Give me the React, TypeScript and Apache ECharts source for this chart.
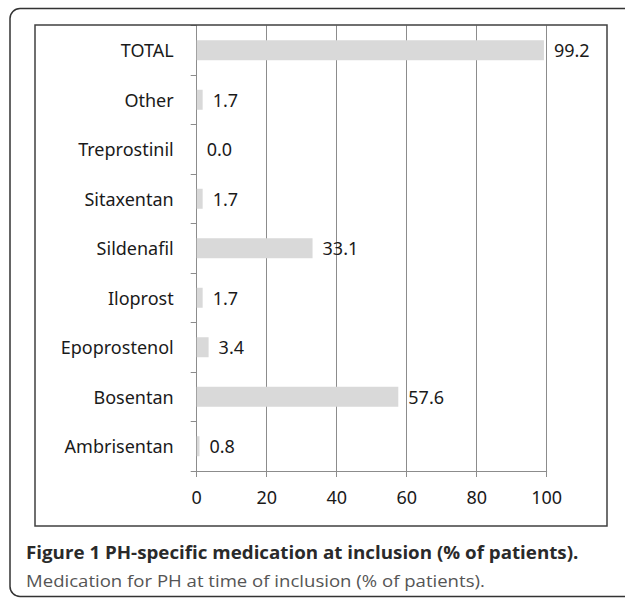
import React, { useEffect, useRef } from "react";
import * as echarts from "echarts";

const categories = ["TOTAL", "Other", "Treprostinil", "Sitaxentan", "Sildenafil", "Iloprost", "Epoprostenol", "Bosentan", "Ambrisentan"];
const values = [99.2, 1.7, 0.0, 1.7, 33.1, 1.7, 3.4, 57.6, 0.8];
const xTicks = [0, 20, 40, 60, 80, 100];
const captionBold = "Figure 1 PH-specific medication at inclusion (% of patients).";
const captionText = "Medication for PH at time of inclusion (% of patients).";

const FONT = "'Noto Sans', 'Open Sans', sans-serif";
const CAP_FONT = "'Open Sans', 'Noto Sans', sans-serif";

function fitScale(text: string, font: string, target: number): number {
  const c = document.createElement("canvas");
  const ctx = c.getContext("2d");
  if (!ctx) return 1;
  ctx.font = font;
  const w = ctx.measureText(text).width;
  return w > 0 ? target / w : 1;
}

export default function App() {
  const ref = useRef<HTMLDivElement>(null);
  useEffect(() => {
    if (!ref.current) return;
    const chart = echarts.init(ref.current, undefined, { renderer: "svg" });
    const s1 = fitScale(captionBold, "bold 17px 'Open Sans'", 553);
    const s2 = fitScale(captionText, "normal 17px 'Open Sans'", 459);
    chart.setOption({
      animation: false,
      backgroundColor: "#ffffff",
      grid: { left: 196.7, right: 78.3, top: 25.5, bottom: 127 },
      xAxis: {
        type: "value",
        min: 0,
        max: 100,
        interval: 20,
        axisLine: { show: true, lineStyle: { color: "#8c8c8c", width: 1 } },
        axisTick: { show: true, length: 6, lineStyle: { color: "#8c8c8c" } },
        splitLine: { show: true, lineStyle: { color: "#8c8c8c", width: 1 } },
        axisLabel: {
          color: "#1a1a1a",
          fontSize: 18,
          fontFamily: FONT,
          margin: 17,
          formatter: (v: number) => (xTicks.includes(v) ? String(v) : ""),
        },
      },
      yAxis: {
        type: "category",
        data: categories,
        inverse: true,
        axisLine: { show: true, lineStyle: { color: "#8c8c8c", width: 1 } },
        axisTick: { show: true, length: 6, interval: 0, alignWithLabel: false, lineStyle: { color: "#8c8c8c" } },
        splitLine: { show: false },
        axisLabel: { color: "#1a1a1a", fontSize: 18, fontFamily: FONT, margin: 23, interval: 0 },
      },
      series: [
        {
          type: "bar",
          data: values,
          barWidth: 20,
          itemStyle: { color: "#d9d9d9" },
          label: {
            show: true,
            position: "right",
            distance: 10,
            color: "#1a1a1a",
            fontSize: 18,
            fontFamily: FONT,
            formatter: (p: any) => Number(p.value).toFixed(1),
          },
        },
      ],
      graphic: [
        {
          type: "rect",
          z: 100,
          shape: { x: 10, y: 8.5, width: 700, height: 588, r: 10 },
          style: { fill: "none", stroke: "#333333", lineWidth: 1.5 },
        },
        {
          type: "rect",
          z: 100,
          shape: { x: 35, y: 25, width: 572, height: 501 },
          style: { fill: "none", stroke: "#404040", lineWidth: 1.5 },
        },
        {
          type: "text",
          z: 100,
          x: 26,
          y: 552.3,
          scaleX: s1,
          style: {
            text: captionBold,
            fontFamily: CAP_FONT,
            fontWeight: "bold",
            fontSize: 17,
            fill: "#2a2a2a",
            verticalAlign: "middle",
            align: "left",
          },
        },
        {
          type: "text",
          z: 100,
          x: 26,
          y: 580,
          scaleX: s2,
          style: {
            text: captionText,
            fontFamily: CAP_FONT,
            fontWeight: "normal",
            fontSize: 17,
            fill: "#555555",
            verticalAlign: "middle",
            align: "left",
          },
        },
      ],
    });
    return () => chart.dispose();
  }, []);
  return <div ref={ref} style={{ position: "fixed", left: 0, top: 0, width: 625, height: 598 }} />;
}
